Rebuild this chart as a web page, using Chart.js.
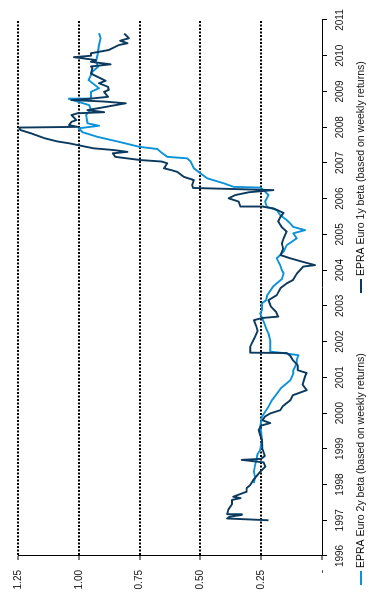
<!DOCTYPE html>
<html>
<head>
<meta charset="utf-8">
<script src="https://cdn.jsdelivr.net/npm/chart.js@4/dist/chart.umd.min.js"></script>
<style>
  html, body { margin: 0; padding: 0; background: #fff; overflow: hidden; }
  /* the chart is laid out landscape and turned a quarter turn to stand upright */
  #frame {
    position: absolute; left: 0; top: 0;
    width: 612px; height: 369px;
    transform-origin: 0 0;
    transform: translateY(612px) rotate(-90deg);
  }
</style>
</head>
<body>
<div id="frame"><canvas id="chart" width="612" height="369"></canvas></div>
<script>
// ---- data ----
const seriesNames = [
  'EPRA Euro 1y beta (based on weekly returns)',
  'EPRA Euro 2y beta (based on weekly returns)'
];

const valueTickLabels = ['-', '0.25', '0.50', '0.75', '1.00', '1.25'];

// 1-year rolling beta (decimal year, beta)
const oneYearDates = [
  1997.00, 1997.05, 1997.10, 1997.15, 1997.17, 1997.30, 1997.45, 1997.57, 1997.62, 1997.66,
  1997.80, 1997.90, 1997.99, 1998.15, 1998.36, 1998.50, 1998.62, 1998.69, 1998.72, 1998.80,
  1999.00, 1999.25, 1999.40, 1999.53, 1999.65, 1999.72, 1999.80, 1999.90, 1999.99, 2000.08,
  2000.20, 2000.36, 2000.50, 2000.64, 2000.80, 2001.02, 2001.12, 2001.20, 2001.34, 2001.48,
  2001.60, 2001.68, 2001.69, 2001.86, 2002.00, 2002.14, 2002.30, 2002.42, 2002.60, 2002.66,
  2002.70, 2002.84, 2002.98, 2003.16, 2003.30, 2003.50, 2003.63, 2003.72, 2003.90, 2004.10,
  2004.14, 2004.24, 2004.33, 2004.42, 2004.60, 2004.75, 2004.89, 2005.08, 2005.20, 2005.36,
  2005.50, 2005.60, 2005.73, 2005.77, 2005.78, 2005.92, 2006.01, 2006.10, 2006.18, 2006.24,
  2006.30, 2006.38, 2006.52, 2006.61, 2006.75, 2006.80, 2006.85, 2006.99, 2007.04, 2007.08,
  2007.17, 2007.27, 2007.31, 2007.36, 2007.41, 2007.50, 2007.55, 2007.60, 2007.69, 2007.83,
  2007.92, 2007.99, 2008.01, 2008.06, 2008.15, 2008.20, 2008.34, 2008.39, 2008.42, 2008.48,
  2008.58, 2008.67, 2008.72, 2008.76, 2008.80, 2008.85, 2008.99, 2009.04, 2009.13, 2009.23,
  2009.30, 2009.41, 2009.50, 2009.65, 2009.70, 2009.76, 2009.83, 2009.88, 2009.96, 2010.00,
  2010.07, 2010.16, 2010.30, 2010.35, 2010.42, 2010.49, 2010.58, 2010.62
];
const oneYearBeta = [
  0.22, 0.39, 0.38, 0.33, 0.39, 0.385, 0.37, 0.37, 0.335, 0.365,
  0.31, 0.31, 0.295, 0.28, 0.254, 0.233, 0.24, 0.33, 0.25, 0.235,
  0.245, 0.247, 0.255, 0.26, 0.25, 0.213, 0.245, 0.235, 0.213, 0.172,
  0.16, 0.13, 0.12, 0.063, 0.08, 0.07, 0.063, 0.10, 0.10, 0.12,
  0.13, 0.145, 0.295, 0.295, 0.285, 0.275, 0.265, 0.27, 0.28, 0.247,
  0.18, 0.19, 0.21, 0.22, 0.186, 0.17, 0.145, 0.12, 0.104, 0.077,
  0.029, 0.083, 0.13, 0.17, 0.16, 0.165, 0.158, 0.145, 0.165, 0.18,
  0.17, 0.158, 0.20, 0.24, 0.336, 0.343, 0.384, 0.357, 0.30, 0.20,
  0.53, 0.534, 0.527, 0.568, 0.595, 0.62, 0.65, 0.636, 0.66, 0.746,
  0.85, 0.86, 0.80, 0.855, 0.94, 1.005, 1.04, 1.087, 1.14, 1.197,
  1.24, 1.245, 1.005, 1.04, 1.03, 1.01, 1.03, 1.005, 0.896, 0.964,
  0.88, 0.807, 0.90, 1.03, 0.95, 0.88, 0.896, 0.877, 0.88, 0.917,
  0.89, 0.923, 0.95, 0.944, 0.95, 0.869, 0.95, 0.93, 1.02, 0.95,
  0.95, 0.877, 0.835, 0.80, 0.83, 0.794, 0.807, 0.814
];

// 2-year rolling beta (decimal year, beta)
const twoYearDates = [
  1998.04, 1998.20, 1998.36, 1998.55, 1998.69, 1998.85, 1998.97, 1999.25, 1999.45, 1999.62,
  1999.90, 2000.18, 2000.36, 2000.50, 2000.69, 2000.92, 2001.11, 2001.20, 2001.39, 2001.48,
  2001.62, 2001.69, 2001.72, 2001.95, 2002.04, 2002.23, 2002.32, 2002.56, 2002.79, 2002.88,
  2003.07, 2003.16, 2003.30, 2003.55, 2003.75, 2003.91, 2004.00, 2004.14, 2004.33, 2004.52,
  2004.70, 2004.89, 2005.03, 2005.12, 2005.21, 2005.31, 2005.40, 2005.54, 2005.68, 2005.77,
  2005.92, 2006.10, 2006.24, 2006.31, 2006.33, 2006.43, 2006.57, 2006.71, 2006.85, 2007.04,
  2007.13, 2007.17, 2007.31, 2007.39, 2007.45, 2007.58, 2007.73, 2007.86, 2007.97, 2008.04,
  2008.11, 2008.34, 2008.50, 2008.62, 2008.79, 2008.80, 2008.99, 2009.09, 2009.32, 2009.55,
  2009.70, 2009.83, 2010.02, 2010.30, 2010.49, 2010.63
];
const twoYearBeta = [
  0.28, 0.275, 0.28, 0.275, 0.27, 0.265, 0.254, 0.247, 0.25, 0.254,
  0.247, 0.22, 0.206, 0.19, 0.17, 0.13, 0.118, 0.118, 0.104, 0.104,
  0.097, 0.172, 0.213, 0.213, 0.213, 0.22, 0.227, 0.24, 0.254, 0.247,
  0.247, 0.23, 0.225, 0.20, 0.165, 0.158, 0.165, 0.172, 0.186, 0.158,
  0.145, 0.104, 0.118, 0.07, 0.118, 0.131, 0.145, 0.172, 0.186, 0.227,
  0.234, 0.22, 0.24, 0.254, 0.363, 0.404, 0.472, 0.50, 0.527, 0.54,
  0.555, 0.636, 0.664, 0.677, 0.75, 0.828, 0.923, 0.985, 1.0, 0.917,
  0.964, 0.97, 0.95, 0.958, 1.04, 0.95, 0.95, 0.917, 0.96, 0.944,
  0.92, 0.93, 0.923, 0.917, 0.91, 0.917
];

// ---- styling ----
const oneYearColor = '#0b3a5e';
const twoYearColor = '#0b92d8';
const fontFamily = '"Liberation Sans", Arial, Helvetica, sans-serif';

const toPoints = (dates, values) => dates.map((d, i) => ({ x: d, y: values[i] }));

// legend drawn as a single row beneath the year axis
const sideLegend = {
  id: 'sideLegend',
  afterDraw(chart, args, opts) {
    const ctx = chart.ctx;
    ctx.save();
    ctx.font = opts.size + 'px ' + fontFamily;
    ctx.textBaseline = 'middle';
    ctx.textAlign = 'left';
    opts.items.forEach(item => {
      const ds = chart.data.datasets[item.dataset];
      ctx.strokeStyle = ds.borderColor;
      ctx.lineWidth = 2;
      ctx.beginPath();
      ctx.moveTo(item.x, opts.y);
      ctx.lineTo(item.x + opts.marker, opts.y);
      ctx.stroke();
      ctx.fillStyle = '#111';
      ctx.fillText(ds.label, item.x + opts.marker + 3, opts.y + 0.5);
    });
    ctx.restore();
  }
};

Chart.defaults.font.family = fontFamily;
Chart.defaults.font.size = 10;
Chart.defaults.color = '#111';

new Chart(document.getElementById('chart'), {
  type: 'line',
  data: {
    datasets: [
      {
        label: seriesNames[0],
        data: toPoints(oneYearDates, oneYearBeta),
        borderColor: oneYearColor,
        backgroundColor: oneYearColor,
        borderWidth: 1.9,
        pointRadius: 0,
        tension: 0,
        borderJoinStyle: 'round'
      },
      {
        label: seriesNames[1],
        data: toPoints(twoYearDates, twoYearBeta),
        borderColor: twoYearColor,
        backgroundColor: twoYearColor,
        borderWidth: 1.9,
        pointRadius: 0,
        tension: 0,
        borderJoinStyle: 'round'
      }
    ]
  },
  options: {
    responsive: false,
    animation: false,
    devicePixelRatio: 1,
    layout: { padding: { left: 0, right: 20, top: 18, bottom: 0 } },
    plugins: {
      legend: { display: false },
      tooltip: { enabled: false },
      sideLegend: {
        y: 361,
        size: 10.5,
        marker: 14,
        items: [ { dataset: 1, x: 27 }, { dataset: 0, x: 319 } ]
      }
    },
    scales: {
      x: {
        type: 'linear',
        min: 1996,
        max: 2011,
        afterFit: s => { s.height = 47; },
        ticks: {
          stepSize: 1,
          autoSkip: false,
          maxRotation: 0,
          padding: 7,
          callback: v => String(v)
        },
        grid: {
          drawOnChartArea: false,
          drawTicks: true,
          tickLength: 5,
          tickColor: '#000',
          tickWidth: 1
        },
        border: { display: true, color: '#000', width: 1 }
      },
      y: {
        min: 0,
        max: 1.25,
        afterFit: s => { s.width = 56; },
        ticks: {
          stepSize: 0.25,
          padding: 10,
          callback: v => valueTickLabels[Math.round(v / 0.25)]
        },
        grid: {
          color: c => (c.tick && c.tick.value === 0) ? 'rgba(0,0,0,0)' : '#000',
          lineWidth: 2,
          tickLength: 4,
          tickColor: '#000',
          tickWidth: 1,
          tickBorderDash: []
        },
        border: { display: true, color: '#000', width: 1, dash: [2, 1.5] }
      }
    }
  },
  plugins: [sideLegend]
});
</script>
</body>
</html>
